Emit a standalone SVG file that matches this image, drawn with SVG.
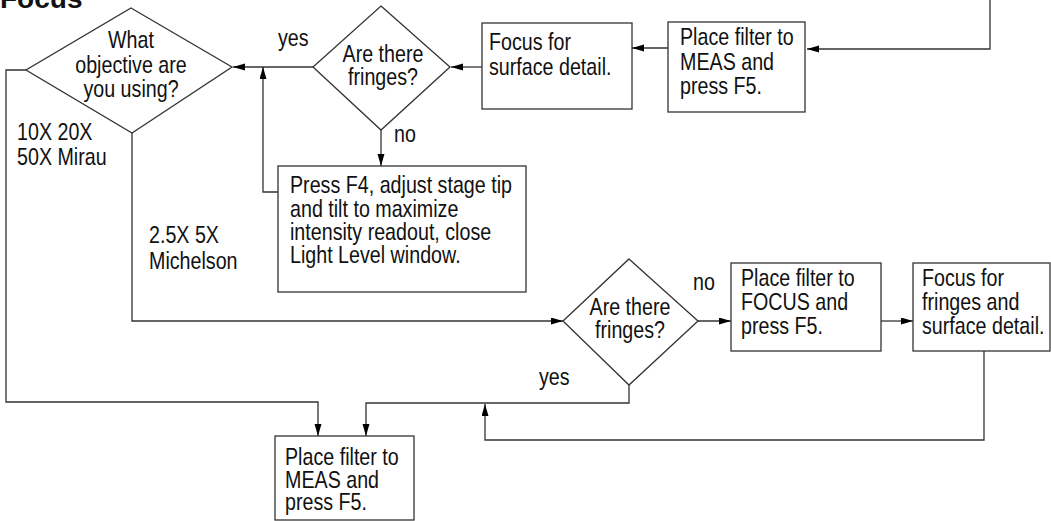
<svg xmlns="http://www.w3.org/2000/svg" width="1051" height="521" viewBox="0 0 1051 521">
<style>
.box{fill:#fff;stroke:#333;stroke-width:1.3}
.ln{fill:none;stroke:#333;stroke-width:1.3;marker-end:url(#ah)}
.t{font-family:"Liberation Sans",Arial,sans-serif;font-size:24px;fill:#111}
.c{text-anchor:middle}
.title{font-family:"Liberation Sans",Arial,sans-serif;font-size:28px;font-weight:bold;fill:#111}
</style>
<defs>
<marker id="ah" markerUnits="userSpaceOnUse" markerWidth="12" markerHeight="8" refX="12" refY="3.5" orient="auto">
<path d="M0,0 L12,3.5 L0,7 z" fill="#000"/>
</marker>
</defs>
<rect width="1051" height="521" fill="#fff"/>
<text class="title" x="0" y="8">Focus</text>
<g id="connectors">
<path class="ln" d="M990,0 V49 H807"/>
<path class="ln" d="M668,48 H632"/>
<path class="ln" d="M482,67 H451"/>
<path class="ln" d="M313,67 H233"/>
<path class="ln" d="M381,130 V166"/>
<path class="ln" d="M278,192 H263 V67"/>
<path class="ln" d="M26,70 H6 V402 H318 V436"/>
<path class="ln" d="M132,133 V321 H563"/>
<path class="ln" d="M698,321 H731"/>
<path class="ln" d="M881,321 H913"/>
<path class="ln" d="M984,351 V440 H485 V404"/>
<path class="ln" d="M629,385 V403 H366 V436"/>
</g>
<g id="labels">
<text class="t" transform="translate(278,46) scale(0.82,1)">yes</text>
<text class="t" transform="translate(394,142) scale(0.82,1)">no</text>
<text class="t" transform="translate(17,140) scale(0.82,1)">10X 20X</text>
<text class="t" transform="translate(17,165) scale(0.82,1)">50X Mirau</text>
<text class="t" transform="translate(149,243) scale(0.82,1)">2.5X 5X</text>
<text class="t" transform="translate(149,269) scale(0.82,1)">Michelson</text>
<text class="t" transform="translate(693,290) scale(0.82,1)">no</text>
<text class="t" transform="translate(539,385) scale(0.82,1)">yes</text>
</g>
<g id="d-objective">
<polygon class="box" points="131,8 232,67 132,133 26,70"/>
<text class="t c" transform="translate(131,48) scale(0.82,1)">What</text>
<text class="t c" transform="translate(131,73) scale(0.82,1)">objective are</text>
<text class="t c" transform="translate(131,97) scale(0.82,1)">you using?</text>
</g>
<g id="d-fringes1">
<polygon class="box" points="381,6 450,67 381,130 313,67"/>
<text class="t c" transform="translate(383,62) scale(0.82,1)">Are there</text>
<text class="t c" transform="translate(383,85) scale(0.82,1)">fringes?</text>
</g>
<g id="b-focus-surface">
<rect class="box" x="482" y="23" width="150" height="86"/>
<text class="t" transform="translate(489,50) scale(0.82,1)">Focus for</text>
<text class="t" transform="translate(489,75) scale(0.82,1)">surface detail.</text>
</g>
<g id="b-meas-top">
<rect class="box" x="668" y="22" width="137" height="90"/>
<text class="t" transform="translate(680,45) scale(0.82,1)">Place filter to</text>
<text class="t" transform="translate(680,70) scale(0.82,1)">MEAS and</text>
<text class="t" transform="translate(680,94) scale(0.82,1)">press F5.</text>
</g>
<g id="b-press-f4">
<rect class="box" x="278" y="166" width="248" height="126"/>
<text class="t" transform="translate(290,193) scale(0.82,1)">Press F4, adjust stage tip</text>
<text class="t" transform="translate(290,217) scale(0.82,1)">and tilt to maximize</text>
<text class="t" transform="translate(290,240) scale(0.82,1)">intensity readout, close</text>
<text class="t" transform="translate(290,263) scale(0.82,1)">Light Level window.</text>
</g>
<g id="d-fringes2">
<polygon class="box" points="629,259 698,321 629,385 563,321"/>
<text class="t c" transform="translate(630,315) scale(0.82,1)">Are there</text>
<text class="t c" transform="translate(630,338) scale(0.82,1)">fringes?</text>
</g>
<g id="b-focus-filter">
<rect class="box" x="731" y="263" width="150" height="88"/>
<text class="t" transform="translate(741,286) scale(0.82,1)">Place filter to</text>
<text class="t" transform="translate(741,310) scale(0.82,1)">FOCUS and</text>
<text class="t" transform="translate(741,334) scale(0.82,1)">press F5.</text>
</g>
<g id="b-focus-fringes">
<rect class="box" x="913" y="263" width="137" height="88"/>
<text class="t" transform="translate(922,286) scale(0.82,1)">Focus for</text>
<text class="t" transform="translate(922,310) scale(0.82,1)">fringes and</text>
<text class="t" transform="translate(922,334) scale(0.82,1)">surface detail.</text>
</g>
<g id="b-meas-bottom">
<rect class="box" x="275" y="436" width="139" height="84"/>
<text class="t" transform="translate(285,465) scale(0.82,1)">Place filter to</text>
<text class="t" transform="translate(285,488) scale(0.82,1)">MEAS and</text>
<text class="t" transform="translate(285,510) scale(0.82,1)">press F5.</text>
</g>
</svg>
